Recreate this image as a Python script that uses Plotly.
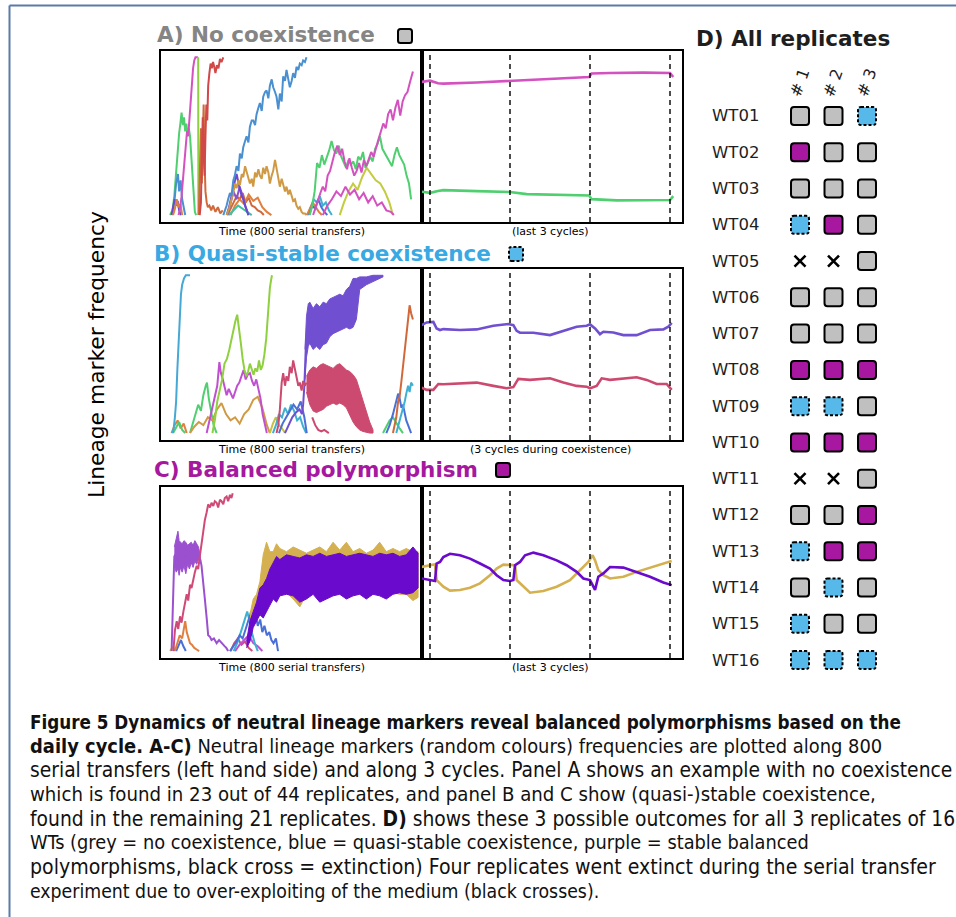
import plotly.graph_objects as go

W, H = 956, 917
def px(x): return x / W
def py(y): return 1 - y / H

# ------------------------------------------------------------------ DATA
# Panel A, left: time (serial transfers) / lineage frequency
A_green1_t = [0, 8, 14, 20, 26, 30, 34, 38, 42, 46, 50, 54, 58, 62, 66, 70, 74, 78, 82, 86]
A_green1_f = [0, 0.03, 0.12, 0.28, 0.45, 0.52, 0.58, 0.65, 0.57, 0.62, 0.53, 0.58, 0.5, 0.55, 0.5, 0.38, 0.22, 0.1, 0.02, 0]
A_pink1_t = [28, 33, 38, 44, 48, 52, 56, 60, 64, 68, 72, 76, 80, 84, 88, 92]
A_pink1_f = [0, 0.04, 0.12, 0.24, 0.33, 0.42, 0.53, 0.5, 0.62, 0.72, 0.83, 0.93, 0.98, 1.0, 1.0, 1.0]
A_lime_t = [93, 93.5]
A_lime_f = [1.0, 0.0]
A_red_t = [98, 102, 105, 108, 111, 114, 117, 120, 123, 126, 130, 134, 138, 142, 146, 150, 155, 160, 165, 170, 176]
A_red_f = [0, 0.08, 0.35, 0.62, 0.4, 0.25, 0.5, 0.7, 0.6, 0.82, 0.9, 0.96, 0.93, 0.97, 0.94, 0.9, 0.95, 0.93, 0.99, 0.97, 1.0]
A_orred_t = [95, 99, 102, 105, 108, 111, 114, 117, 121, 125, 130, 136, 142, 150, 158, 166, 174]
A_orred_f = [0, 0.3, 0.55, 0.2, 0.45, 0.7, 0.35, 0.15, 0.08, 0.05, 0.06, 0.03, 0.06, 0.02, 0.05, 0.01, 0.03]
A_blue1_t = [8, 14, 20, 26, 30, 35, 40, 45, 50]
A_blue1_f = [0, 0.08, 0.2, 0.26, 0.15, 0.22, 0.1, 0.04, 0]
A_purp1_t = [5, 10, 15, 20, 25, 30, 36]
A_purp1_f = [0, 0.05, 0.1, 0.06, 0.09, 0.03, 0]
A_oran1_t = [10, 16, 22, 28, 34, 40]
A_oran1_f = [0, 0.04, 0.1, 0.05, 0.07, 0]
A_blue_t = [176, 182, 187, 192, 198, 203, 209, 214, 220, 226, 231, 237, 242, 248, 253, 259, 264, 270, 275, 281,
            286, 292, 297, 303, 308, 314, 319, 325, 330, 336, 341, 347, 352, 358, 363, 369, 374, 380, 385, 391,
            396, 402, 407, 413, 418, 424, 429, 435, 440, 446, 451]
A_blue_f = [0, 0.03, 0.06, 0.1, 0.14, 0.12, 0.22, 0.25, 0.31, 0.28, 0.39, 0.36, 0.43, 0.47, 0.5, 0.46, 0.56, 0.6, 0.6, 0.57,
            0.64, 0.68, 0.71, 0.66, 0.75, 0.78, 0.79, 0.74, 0.82, 0.86, 0.81, 0.78, 0.75, 0.67, 0.77, 0.72, 0.88, 0.85, 0.92, 0.86,
            0.81, 0.85, 0.9, 0.87, 0.94, 0.92, 0.96, 0.95, 0.98, 0.97, 1.0]
A_tan_t = [187, 195, 203, 209, 215, 220, 226, 231, 237, 242, 248, 253, 259, 264, 270, 275, 281, 286, 292, 297,
           303, 308, 314, 319, 325, 330, 336, 341, 347, 352, 358, 363, 369, 374, 380, 385, 391, 396, 402, 407,
           413, 418, 424, 429, 435, 440, 446, 451]
A_tan_f = [0, 0.04, 0.1, 0.14, 0.2, 0.17, 0.22, 0.19, 0.26, 0.24, 0.31, 0.27, 0.24, 0.2, 0.23, 0.18, 0.27, 0.24, 0.29, 0.25,
           0.23, 0.3, 0.26, 0.31, 0.27, 0.2, 0.25, 0.28, 0.35, 0.3, 0.22, 0.18, 0.23, 0.2, 0.15, 0.18, 0.13, 0.16, 0.12, 0.09,
           0.1, 0.06, 0.04, 0.05, 0.02, 0.01, 0.01, 0]
A_purp2_t = [187, 195, 203, 209, 215, 220, 226, 231, 237, 242, 248, 253, 259]
A_purp2_f = [0, 0.05, 0.12, 0.18, 0.22, 0.26, 0.2, 0.16, 0.12, 0.1, 0.06, 0.03, 0]
A_redor2_t = [190, 200, 210, 220, 230, 240, 250, 260, 270, 280, 290, 300, 310]
A_redor2_f = [0, 0.04, 0.08, 0.12, 0.1, 0.14, 0.08, 0.11, 0.06, 0.05, 0.03, 0.02, 0]
A_oran2_t = [200, 215, 230, 245, 260, 275, 290, 305, 320, 335]
A_oran2_f = [0, 0.06, 0.1, 0.07, 0.13, 0.09, 0.11, 0.05, 0.02, 0]
A_violet_t = [190, 200, 210, 220, 230, 240, 250, 260]
A_violet_f = [0, 0.08, 0.15, 0.1, 0.18, 0.12, 0.05, 0]
A_teal_t = [195, 210, 225, 240, 255, 270]
A_teal_f = [0, 0.03, 0.06, 0.04, 0.02, 0]
A_cyan3_t = [455, 465, 475, 485, 495, 505, 515, 525, 535]
A_cyan3_f = [0, 0.05, 0.1, 0.08, 0.12, 0.06, 0.08, 0.03, 0]
A_oran3_t = [452, 462, 472, 482, 492, 502]
A_oran3_f = [0, 0.04, 0.08, 0.05, 0.02, 0]
A_blue3_t = [460, 470, 480, 490, 500, 510, 520]
A_blue3_f = [0, 0.06, 0.04, 0.1, 0.05, 0.02, 0]
A_green_t = [462, 470, 478, 486, 494, 502, 510, 518, 526, 534, 542, 550, 558, 566, 574, 582, 590, 598, 606, 614,
             622, 630, 638, 646, 654, 662, 670, 678, 686, 694, 702, 710, 718, 726, 734, 742, 750, 758, 766, 774,
             782, 790, 797]
A_green_f = [0, 0.06, 0.15, 0.33, 0.3, 0.38, 0.32, 0.36, 0.41, 0.47, 0.41, 0.39, 0.44, 0.37, 0.34, 0.3, 0.35, 0.32, 0.34, 0.29,
             0.37, 0.35, 0.4, 0.3, 0.33, 0.37, 0.34, 0.42, 0.45, 0.5, 0.42, 0.39, 0.36, 0.33, 0.31, 0.38, 0.43, 0.38, 0.35, 0.32,
             0.25, 0.2, 0.1]
A_pink_t = [473, 481, 489, 497, 505, 513, 521, 529, 537, 545, 553, 561, 569, 577, 585, 593, 601, 609, 617, 625,
            633, 641, 649, 657, 665, 673, 681, 689, 697, 705, 713, 721, 729, 737, 745, 753, 761, 769, 777, 785,
            793, 803]
A_pink_f = [0, 0.05, 0.1, 0.14, 0.18, 0.15, 0.25, 0.28, 0.34, 0.4, 0.44, 0.38, 0.42, 0.34, 0.29, 0.36, 0.3, 0.25, 0.28, 0.33,
            0.27, 0.35, 0.31, 0.36, 0.4, 0.37, 0.43, 0.48, 0.53, 0.58, 0.55, 0.64, 0.67, 0.6, 0.68, 0.73, 0.63, 0.72, 0.76, 0.78,
            0.84, 0.91]
A_pink2_t = [505, 520, 535, 550, 565, 580, 595, 610, 625, 640, 655, 670, 685, 700, 715, 730, 740]
A_pink2_f = [0, 0.06, 0.1, 0.15, 0.12, 0.18, 0.13, 0.16, 0.1, 0.14, 0.08, 0.12, 0.06, 0.08, 0.03, 0.02, 0]
A_olive_t = [561, 575, 590, 605, 620, 635, 650, 665, 680, 695, 710, 725, 737]
A_olive_f = [0, 0.08, 0.15, 0.2, 0.16, 0.24, 0.3, 0.26, 0.22, 0.2, 0.15, 0.08, 0]

# Panel A, right: cycles / frequency
AR_pink_c = [-0.104, 0.0, 0.1, 0.167, 0.583, 1.0, 1.417, 1.99, 2.02, 2.25, 2.67, 3.0, 3.04]
AR_pink_f = [0.844, 0.852, 0.836, 0.833, 0.840, 0.850, 0.859, 0.875, 0.897, 0.901, 0.903, 0.901, 0.875]
AR_green_c = [-0.104, 0.0, 0.1, 0.167, 0.583, 1.0, 1.208, 1.99, 2.02, 2.333, 3.0, 3.04]
AR_green_f = [0.148, 0.141, 0.152, 0.158, 0.152, 0.146, 0.133, 0.124, 0.101, 0.093, 0.095, 0.12]

# Panel B, left
B_cyan_t = [8, 12, 16, 20, 24, 28, 32, 36, 40, 46, 52, 58, 66]
B_cyan_f = [0, 0.03, 0.1, 0.2, 0.4, 0.6, 0.78, 0.88, 0.94, 0.98, 1.0, 1.0, 1.0]
B_oran1_t = [5, 15, 25, 35, 45, 55]
B_oran1_f = [0, 0.05, 0.08, 0.03, 0.06, 0]
B_grn1_t = [10, 20, 30, 40, 50]
B_grn1_f = [0, 0.04, 0.07, 0.02, 0]
B_green_t = [66, 75, 84, 93, 102, 110, 118, 122, 128, 136, 144, 154]
B_green_f = [0, 0.06, 0.12, 0.18, 0.14, 0.24, 0.3, 0.32, 0.22, 0.14, 0.05, 0]
B_tan_t = [66, 80, 95, 110, 125, 140, 155, 170, 185, 200, 215, 230, 245, 260, 275, 290, 305, 320, 330]
B_tan_f = [0, 0.04, 0.07, 0.05, 0.1, 0.08, 0.15, 0.19, 0.12, 0.08, 0.1, 0.06, 0.12, 0.15, 0.21, 0.23, 0.16, 0.05, 0]
B_mag_t = [121, 128, 135, 142, 149, 156, 163, 168, 173, 180, 187, 194, 201, 208, 215, 222, 229, 236, 243, 250,
           257, 264, 271, 278, 285, 292, 299, 306, 313, 320]
B_mag_f = [0, 0.06, 0.12, 0.18, 0.25, 0.3, 0.45, 0.38, 0.35, 0.3, 0.24, 0.28, 0.25, 0.22, 0.26, 0.3, 0.32, 0.36, 0.4, 0.34,
           0.37, 0.38, 0.33, 0.3, 0.34, 0.28, 0.22, 0.12, 0.05, 0]
B_lime_t = [140, 148, 156, 164, 172, 180, 188, 196, 204, 210, 216, 222, 228, 234, 240, 246, 252, 258, 264, 270,
            276, 282, 288, 294, 300, 306, 312, 318, 322, 326, 330, 334, 337]
B_lime_f = [0, 0.08, 0.2, 0.27, 0.34, 0.44, 0.47, 0.53, 0.6, 0.67, 0.71, 0.75, 0.64, 0.57, 0.47, 0.4, 0.36, 0.39, 0.44, 0.4,
            0.37, 0.41, 0.39, 0.46, 0.4, 0.43, 0.5, 0.6, 0.72, 0.82, 0.92, 0.97, 1.0]
B_cyan2_t = [340, 350, 360, 370, 380, 390, 400, 410, 420, 430, 440, 450]
B_cyan2_f = [0, 0.05, 0.12, 0.1, 0.16, 0.12, 0.18, 0.14, 0.08, 0.1, 0.04, 0]
B_blue2_t = [360, 372, 384, 396, 408, 420, 432, 444, 452]
B_blue2_f = [0, 0.06, 0.1, 0.14, 0.18, 0.15, 0.2, 0.1, 0]
B_yel_t = [330, 340, 350, 360, 370, 380]
B_yel_f = [0, 0.06, 0.1, 0.05, 0.03, 0]
B_purp_t = [380, 392, 404, 416, 428, 436, 440, 444, 447, 450]
B_purp_f = [0, 0.05, 0.1, 0.13, 0.15, 0.12, 0.18, 0.3, 0.45, 0.6]
B_purpband_t = [446, 451, 457, 462, 473, 484, 495, 506, 517, 528, 539, 550, 561, 572, 583, 594, 605, 616, 627, 649, 671, 704]
B_purpband_hi = [0.53, 0.74, 0.82, 0.83, 0.79, 0.82, 0.8, 0.83, 0.82, 0.85, 0.86, 0.87, 0.88, 0.87, 0.91, 0.93, 0.98, 0.98, 0.99, 0.99, 1.0, 1.0]
B_purpband_lo = [0.34, 0.48, 0.55, 0.57, 0.53, 0.55, 0.53, 0.56, 0.57, 0.61, 0.63, 0.64, 0.65, 0.66, 0.67, 0.66, 0.67, 0.72, 0.91, 0.94, 0.96, 0.99]
B_crim_t = [352, 358, 363, 369, 374, 380, 385, 391, 396, 402, 407, 413, 418, 424, 429, 435, 440, 446, 451]
B_crim_f = [0, 0.05, 0.15, 0.32, 0.38, 0.3, 0.36, 0.33, 0.42, 0.38, 0.46, 0.4, 0.34, 0.3, 0.32, 0.27, 0.33, 0.3, 0.32]
B_crimband_t = [451, 462, 473, 484, 495, 506, 517, 528, 539, 550, 561, 572, 583, 594, 605, 616, 627, 638, 649, 660, 671]
B_crimband_hi = [0.36, 0.4, 0.42, 0.41, 0.43, 0.44, 0.43, 0.42, 0.41, 0.43, 0.44, 0.42, 0.4, 0.39, 0.37, 0.34, 0.27, 0.2, 0.13, 0.07, 0.02]
B_crimband_lo = [0.26, 0.18, 0.14, 0.13, 0.14, 0.15, 0.17, 0.18, 0.19, 0.18, 0.19, 0.18, 0.16, 0.12, 0.07, 0.04, 0.02, 0.01, 0.005, 0.0, 0.0]
B_crim2_t = [470, 480, 490, 500, 510, 520, 525]
B_crim2_f = [0.1, 0.05, 0.02, 0.01, 0.02, 0.01, 0]
B_orred_t = [737, 743, 748, 754, 759, 765, 770, 776, 781, 787, 792, 797, 803]
B_orred_f = [0, 0.05, 0.1, 0.2, 0.23, 0.33, 0.42, 0.5, 0.59, 0.72, 0.81, 0.76, 0.72]
B_blue3_t = [715, 726, 737, 748, 754, 759, 765, 770, 776, 781, 787, 792, 797]
B_blue3_f = [0, 0.05, 0.12, 0.2, 0.25, 0.22, 0.16, 0.18, 0.12, 0.08, 0.05, 0.02, 0]
B_cyan3_t = [748, 759, 770, 776, 781, 787, 792, 797, 803]
B_cyan3_f = [0, 0.08, 0.15, 0.2, 0.25, 0.3, 0.26, 0.32, 0.3]
B_grn3_t = [704, 715, 726, 737, 748, 759, 770]
B_grn3_f = [0, 0.04, 0.08, 0.1, 0.06, 0.03, 0]

# Panel B, right
BR_purp_c = [-0.104, -0.042, 0.042, 0.083, 0.125, 0.167, 0.375, 0.583, 0.792, 0.979, 1.042, 1.083, 1.125, 1.292, 1.5,
             1.667, 1.833, 1.958, 2.0, 2.063, 2.125, 2.167, 2.292, 2.417, 2.583, 2.75, 2.917, 2.979, 3.021]
BR_purp_f = [0.684, 0.701, 0.705, 0.663, 0.653, 0.659, 0.653, 0.657, 0.680, 0.691, 0.684, 0.648, 0.636, 0.636, 0.621,
             0.648, 0.674, 0.680, 0.689, 0.663, 0.627, 0.642, 0.638, 0.621, 0.621, 0.653, 0.657, 0.674, 0.699]
BR_crim_c = [-0.104, -0.042, 0.042, 0.104, 0.167, 0.375, 0.583, 0.792, 0.958, 1.042, 1.104, 1.25, 1.5, 1.667, 1.833,
             1.958, 2.0, 2.083, 2.146, 2.25, 2.417, 2.583, 2.708, 2.833, 2.958, 3.021]
BR_crim_f = [0.288, 0.274, 0.274, 0.311, 0.309, 0.316, 0.320, 0.299, 0.284, 0.291, 0.343, 0.337, 0.347, 0.320, 0.299,
             0.294, 0.284, 0.299, 0.347, 0.337, 0.347, 0.354, 0.337, 0.311, 0.311, 0.274]

# Panel C, left
C_lav_t = [5, 8, 11, 14, 20, 30, 40, 50, 60, 70, 80, 90, 100, 104, 110, 115, 121, 126, 132, 137,
           145, 154, 162, 170, 176, 181, 186, 192]
C_lav_f = [0, 0.15, 0.4, 0.6, 0.62, 0.58, 0.6, 0.6, 0.61, 0.62, 0.63, 0.61, 0.58, 0.54, 0.44, 0.33, 0.21, 0.1, 0.09, 0.07,
           0.08, 0.05, 0.07, 0.05, 0.04, 0.03, 0.02, 0]
C_lavband_t = [14, 20, 26, 30, 34, 40, 46, 52, 58, 64, 70, 76, 82, 88, 94, 100]
C_lavband_hi = [0.66, 0.72, 0.76, 0.7, 0.69, 0.68, 0.7, 0.69, 0.67, 0.68, 0.69, 0.67, 0.7, 0.68, 0.66, 0.6]
C_lavband_lo = [0.55, 0.5, 0.52, 0.48, 0.53, 0.5, 0.54, 0.49, 0.55, 0.52, 0.56, 0.53, 0.57, 0.55, 0.58, 0.56]
C_crim_t = [11, 16, 22, 27, 33, 38, 44, 49, 55, 60, 66, 71, 77, 82, 88, 93, 99, 104, 110, 115,
            121, 126, 132, 137, 143, 148, 154, 159, 165, 170, 176, 181, 187, 192, 198, 203, 207]
C_crim_f = [0, 0.13, 0.19, 0.14, 0.22, 0.18, 0.25, 0.3, 0.36, 0.32, 0.42, 0.4, 0.46, 0.5, 0.54, 0.52, 0.61, 0.69, 0.77, 0.83,
            0.88, 0.93, 0.91, 0.94, 0.92, 0.95, 0.94, 0.91, 0.96, 0.95, 0.93, 0.97, 0.98, 0.95, 0.99, 0.97, 1.0]
C_oran_t = [16, 24, 32, 40, 46, 50, 55, 60, 66, 72, 80, 88, 96]
C_oran_f = [0, 0.05, 0.1, 0.08, 0.15, 0.19, 0.12, 0.08, 0.05, 0.04, 0.02, 0.01, 0]
C_blue1_t = [20, 28, 36, 44, 52]
C_blue1_f = [0, 0.04, 0.07, 0.03, 0]
C_yel_t = [0, 5, 10, 15]
C_yel_f = [0, 0.02, 0.03, 0]
C_blue_t = [198, 210, 220, 230, 240, 250, 260, 268, 275, 282, 290, 298, 305, 312, 320, 328, 335, 342, 350, 357]
C_blue_f = [0, 0.03, 0.06, 0.1, 0.08, 0.14, 0.2, 0.25, 0.18, 0.24, 0.16, 0.2, 0.12, 0.16, 0.1, 0.12, 0.07, 0.05, 0.08, 0]
C_cyan_t = [210, 222, 234, 246, 255, 262, 270, 280, 290]
C_cyan_f = [0, 0.05, 0.12, 0.2, 0.25, 0.2, 0.12, 0.05, 0]
C_pink_t = [200, 212, 224, 236, 248, 260, 272]
C_pink_f = [0, 0.05, 0.08, 0.04, 0.06, 0.02, 0]
C_mag_t = [215, 230, 245, 260, 275, 290, 305]
C_mag_f = [0, 0.04, 0.07, 0.1, 0.05, 0.03, 0]
C_gold_t = [264, 275, 286, 297, 308, 319, 330, 341, 352, 363, 385, 407, 429, 451, 473, 495, 517, 539, 561, 583,
            605, 627, 649, 671, 693, 715, 737, 759, 781, 803, 820]
C_gold_hi = [0.23, 0.33, 0.36, 0.44, 0.61, 0.69, 0.63, 0.63, 0.68, 0.65, 0.63, 0.66, 0.64, 0.62, 0.64, 0.66, 0.63, 0.69, 0.64, 0.69,
             0.63, 0.65, 0.62, 0.64, 0.69, 0.63, 0.65, 0.63, 0.65, 0.63, 0.63]
C_gold_lo = [0.1, 0.2, 0.24, 0.3, 0.32, 0.34, 0.33, 0.35, 0.36, 0.38, 0.37, 0.33, 0.28, 0.36, 0.37, 0.36, 0.35, 0.37, 0.36, 0.34,
             0.37, 0.36, 0.35, 0.37, 0.36, 0.34, 0.37, 0.36, 0.36, 0.32, 0.34]
C_purp_t = [253, 264, 275, 286, 297, 308, 319, 330, 341, 352, 363, 385, 407, 429, 451, 473, 495, 517, 539, 561,
            583, 605, 627, 649, 671, 693, 715, 737, 759, 781, 803, 820]
C_purp_hi = [0.06, 0.19, 0.25, 0.31, 0.4, 0.42, 0.46, 0.52, 0.56, 0.6, 0.58, 0.61, 0.6, 0.59, 0.61, 0.6, 0.62, 0.6, 0.61, 0.62,
             0.6, 0.61, 0.62, 0.61, 0.6, 0.62, 0.61, 0.62, 0.6, 0.61, 0.66, 0.62]
C_purp_lo = [0.02, 0.06, 0.15, 0.19, 0.23, 0.21, 0.25, 0.29, 0.33, 0.31, 0.35, 0.36, 0.35, 0.31, 0.33, 0.36, 0.31, 0.33, 0.35, 0.36,
             0.33, 0.35, 0.36, 0.33, 0.36, 0.35, 0.33, 0.36, 0.37, 0.36, 0.37, 0.4]

# Panel C, right
CR_purp_c = [-0.104, 0.0, 0.0625, 0.083, 0.125, 0.167, 0.25, 0.375, 0.5, 0.625, 0.75, 0.833, 0.917, 1.0, 1.042, 1.063,
             1.125, 1.188, 1.292, 1.417, 1.583, 1.708, 1.833, 1.917, 2.0, 2.033, 2.063, 2.083, 2.104, 2.167, 2.25,
             2.417, 2.583, 2.75, 2.917, 3.021]
CR_purp_f = [0.460, 0.450, 0.444, 0.555, 0.565, 0.596, 0.617, 0.607, 0.586, 0.555, 0.523, 0.481, 0.450, 0.444, 0.450, 0.544,
             0.565, 0.607, 0.624, 0.607, 0.575, 0.544, 0.502, 0.460, 0.450, 0.418, 0.387, 0.429, 0.471, 0.492, 0.533,
             0.529, 0.502, 0.471, 0.435, 0.418]
CR_gold_c = [-0.104, 0.0, 0.0625, 0.083, 0.167, 0.25, 0.375, 0.5, 0.625, 0.75, 0.833, 0.917, 1.0, 1.063, 1.083, 1.167,
             1.25, 1.417, 1.583, 1.75, 1.833, 1.917, 1.979, 2.033, 2.063, 2.104, 2.167, 2.25, 2.417, 2.583, 2.75, 2.917, 3.021]
CR_gold_f = [0.533, 0.544, 0.550, 0.450, 0.408, 0.383, 0.387, 0.401, 0.429, 0.481, 0.523, 0.548, 0.544, 0.544, 0.450, 0.408,
             0.370, 0.381, 0.408, 0.450, 0.492, 0.529, 0.565, 0.607, 0.575, 0.513, 0.481, 0.460, 0.471, 0.502, 0.529, 0.558, 0.571]

# Cycle boundaries in the right-hand panels
CYCLE_MARKS = [0, 1, 2, 3]

# Panel D: outcome of each replicate
D_ROWS = ["WT01", "WT02", "WT03", "WT04", "WT05", "WT06", "WT07", "WT08",
          "WT09", "WT10", "WT11", "WT12", "WT13", "WT14", "WT15", "WT16"]
D_COLS = ["# 1", "# 2", "# 3"]
D_REP1 = ["grey", "purple", "grey", "blue", "extinct", "grey", "grey", "purple",
          "blue", "purple", "extinct", "grey", "blue", "grey", "blue", "blue"]
D_REP2 = ["grey", "grey", "grey", "purple", "extinct", "grey", "grey", "purple",
          "blue", "purple", "extinct", "grey", "purple", "blue", "grey", "blue"]
D_REP3 = ["blue", "grey", "grey", "grey", "grey", "grey", "grey", "purple",
          "grey", "purple", "grey", "purple", "purple", "grey", "grey", "blue"]

CAPTION = [
    "<b>Figure 5 Dynamics of neutral lineage markers reveal balanced polymorphisms based on the</b>",
    "<b>daily cycle. A-C)</b> Neutral lineage markers (random colours) frequencies are plotted along 800",
    "serial transfers (left hand side) and along 3 cycles. Panel A shows an example with no coexistence",
    "which is found in 23 out of 44 replicates, and panel B and C show (quasi-)stable coexistence,",
    "found in the remaining 21 replicates. <b>D)</b> shows these 3 possible outcomes for all 3 replicates of 16",
    "WTs (grey = no coexistence, blue = quasi-stable coexistence, purple = stable balanced",
    "polymorphisms, black cross = extinction) Four replicates went extinct during the serial transfer",
    "experiment due to over-exploiting of the medium (black crosses).",
]
CAPTION_SIZES = [18.7, 19.9, 20.8, 20.2, 20.8, 19.8, 21.1, 19.3]

# ------------------------------------------------------------------ STYLE
C_GREEN = "#4fcf6f"; C_PINK = "#d452c0"; C_RED = "#d04848"; C_ORRED = "#d0683a"
C_BLUE = "#4a90d0"; C_TAN = "#d09a45"; C_PURP = "#6a48d0"; C_OLIVE = "#c2cc3e"
C_LIME = "#8fd040"; C_TEAL = "#40c0a0"; C_CYAN = "#40b0d0"; C_ORAN = "#e08040"
C_BLUE2 = "#4a70d8"; C_MAG = "#c050d0"; C_BPURP = "#7050d0"; C_CRIM = "#cc4a70"
C_LAV = "#9b50d0"; C_CPINK = "#d04a78"; C_GOLD = "#d4b050"; C_DPURP = "#6a0acc"
C_YEL = "#c8c040"

OUT_FILL = {"grey": "#c0c0c0", "blue": "#56b9ea", "purple": "#a8179f"}

A_LINES = [(A_green1_t, A_green1_f, C_GREEN), (A_blue1_t, A_blue1_f, C_BLUE), (A_purp1_t, A_purp1_f, C_PURP),
           (A_oran1_t, A_oran1_f, C_ORAN), (A_pink1_t, A_pink1_f, C_PINK), (A_lime_t, A_lime_f, C_LIME),
           (A_orred_t, A_orred_f, C_ORRED), (A_red_t, A_red_f, C_RED),
           (A_redor2_t, A_redor2_f, C_ORRED), (A_oran2_t, A_oran2_f, C_ORAN), (A_violet_t, A_violet_f, "#8a50d0"),
           (A_teal_t, A_teal_f, C_TEAL), (A_purp2_t, A_purp2_f, C_PURP), (A_tan_t, A_tan_f, C_TAN),
           (A_blue_t, A_blue_f, C_BLUE),
           (A_cyan3_t, A_cyan3_f, C_CYAN), (A_oran3_t, A_oran3_f, C_ORAN), (A_blue3_t, A_blue3_f, C_BLUE2),
           (A_olive_t, A_olive_f, C_OLIVE), (A_pink2_t, A_pink2_f, C_PINK),
           (A_green_t, A_green_f, C_GREEN), (A_pink_t, A_pink_f, C_PINK)]
AR_LINES = [(AR_pink_c, AR_pink_f, C_PINK), (AR_green_c, AR_green_f, C_GREEN)]

B_BANDS = [(B_purpband_t, B_purpband_hi, B_purpband_lo, C_BPURP), (B_crimband_t, B_crimband_hi, B_crimband_lo, C_CRIM)]
B_LINES = [(B_oran1_t, B_oran1_f, C_ORAN), (B_grn1_t, B_grn1_f, C_GREEN), (B_cyan_t, B_cyan_f, "#45a8d5"),
           (B_green_t, B_green_f, C_GREEN), (B_tan_t, B_tan_f, C_TAN), (B_mag_t, B_mag_f, C_MAG),
           (B_lime_t, B_lime_f, C_LIME), (B_yel_t, B_yel_f, C_YEL), (B_cyan2_t, B_cyan2_f, C_CYAN),
           (B_blue2_t, B_blue2_f, C_BLUE2), (B_purp_t, B_purp_f, C_BPURP), (B_crim_t, B_crim_f, C_CRIM),
           (B_crim2_t, B_crim2_f, C_CRIM), (B_grn3_t, B_grn3_f, C_GREEN), (B_blue3_t, B_blue3_f, C_BLUE2),
           (B_cyan3_t, B_cyan3_f, C_CYAN), (B_orred_t, B_orred_f, C_ORRED)]
BR_LINES = [(BR_purp_c, BR_purp_f, C_BPURP), (BR_crim_c, BR_crim_f, C_CRIM)]

C_BANDS = [(C_lavband_t, C_lavband_hi, C_lavband_lo, C_LAV), (C_gold_t, C_gold_hi, C_gold_lo, C_GOLD),
           (C_purp_t, C_purp_hi, C_purp_lo, C_DPURP)]
C_LINES = [(C_yel_t, C_yel_f, C_YEL), (C_blue1_t, C_blue1_f, C_BLUE2), (C_oran_t, C_oran_f, C_ORAN),
           (C_lav_t, C_lav_f, C_LAV), (C_crim_t, C_crim_f, C_CPINK), (C_pink_t, C_pink_f, C_CPINK),
           (C_mag_t, C_mag_f, C_MAG), (C_cyan_t, C_cyan_f, C_CYAN), (C_blue_t, C_blue_f, C_BLUE2)]
CR_LINES = [(CR_gold_c, CR_gold_f, C_GOLD), (CR_purp_c, CR_purp_f, C_DPURP)]

fig = go.Figure()

def add_lines(lines, xa, ya, width):
    for t, f, col in lines:
        fig.add_trace(go.Scatter(x=t, y=f, mode="lines", line=dict(color=col, width=width),
                                 xaxis=xa, yaxis=ya, hoverinfo="skip", showlegend=False))

def add_bands(bands, xa, ya):
    for t, hi, lo, col in bands:
        fig.add_trace(go.Scatter(x=list(t) + list(t)[::-1], y=list(hi) + list(lo)[::-1], mode="lines",
                                 fill="toself", fillcolor=col, line=dict(color=col, width=1),
                                 xaxis=xa, yaxis=ya, hoverinfo="skip", showlegend=False))

add_lines(A_LINES, "x", "y", 2)
add_lines(AR_LINES, "x2", "y2", 2.6)
add_bands(B_BANDS, "x3", "y3")
add_lines(B_LINES, "x3", "y3", 2)
add_lines(BR_LINES, "x4", "y4", 2.6)
add_lines(C_LINES[:3], "x5", "y5", 2)
add_bands(C_BANDS[:1], "x5", "y5")
add_lines(C_LINES[3:], "x5", "y5", 2)
add_bands(C_BANDS[1:], "x5", "y5")
add_lines(CR_LINES, "x6", "y6", 2.6)

# Panel D crosses (extinct replicates)
cx, cy = [], []
for j, rep in enumerate([D_REP1, D_REP2, D_REP3]):
    for i, o in enumerate(rep):
        if o == "extinct":
            cx.append(j + 1); cy.append(i + 1)
fig.add_trace(go.Scatter(x=cx, y=cy, mode="markers", xaxis="x7", yaxis="y7",
                         marker=dict(symbol="x-thin", size=11, line=dict(color="black", width=2.6)),
                         hoverinfo="skip", showlegend=False))

# ------------------------------------------------------------------ LAYOUT
PANEL_Y = [(51, 222), (269, 440), (487, 658)]
LEFT_X = (161, 422)
RIGHT_X = (422, 682)
YR = [-0.044, 1.04]

def box_axis(dom, rng, anchor):
    return dict(domain=dom, range=rng, anchor=anchor, showgrid=False, zeroline=False,
                showticklabels=False, ticks="", showline=True, linecolor="black", linewidth=1.5, mirror=True)

layout = dict(width=W, height=H, margin=dict(l=0, r=0, t=0, b=0), paper_bgcolor="white",
              plot_bgcolor="white", showlegend=False, font=dict(family="DejaVu Sans", color="black"))
k = 1
for (top, bot) in PANEL_Y:
    ydom = [py(bot), py(top)]
    for (xl, xr), rng in [(LEFT_X, [-30, 833]), (RIGHT_X, [-0.1, 3.15])]:
        xn = "xaxis" if k == 1 else f"xaxis{k}"
        yn = "yaxis" if k == 1 else f"yaxis{k}"
        layout[xn] = box_axis([px(xl), px(xr)], rng, "y" if k == 1 else f"y{k}")
        layout[yn] = box_axis(ydom, YR, "x" if k == 1 else f"x{k}")
        k += 1
# D axis
layout["xaxis7"] = dict(domain=[px(770), px(900)], range=[0.104, 3.985], anchor="y7", visible=False)
layout["yaxis7"] = dict(domain=[py(678), py(98)], range=[16.495, 0.504], anchor="x7", visible=False)
fig.update_layout(**layout)

shapes = []
# dashed cycle boundaries
for xa in ["x2", "x4", "x6"]:
    ya = "y" + xa[1:]
    for c in CYCLE_MARKS:
        shapes.append(dict(type="line", xref=xa, yref=f"{ya} domain", x0=c, x1=c, y0=0, y1=1,
                           line=dict(color="black", width=1.4, dash="5px,4px")))

def rrect(cx_, cy_, hw, hh, rx, ry):
    x0, x1, y0, y1 = cx_ - hw, cx_ + hw, cy_ - hh, cy_ + hh
    return (f"M {x0+rx},{y0} L {x1-rx},{y0} Q {x1},{y0} {x1},{y0+ry} L {x1},{y1-ry} "
            f"Q {x1},{y1} {x1-rx},{y1} L {x0+rx},{y1} Q {x0},{y1} {x0},{y1-ry} L {x0},{y0+ry} Q {x0},{y0} {x0+rx},{y0} Z")

def outcome_shape(kind, path, xref, yref):
    dash = "3px,2px" if kind == "blue" else "solid"
    return dict(type="path", path=path, xref=xref, yref=yref, fillcolor=OUT_FILL[kind],
                line=dict(color="black", width=2, dash=dash), layer="above")

XS, YS = 33.5, 36.27   # px per unit in panel D
for j, rep in enumerate([D_REP1, D_REP2, D_REP3]):
    for i, o in enumerate(rep):
        if o == "extinct":
            continue
        shapes.append(outcome_shape(o, rrect(j + 1, i + 1, 9 / XS, 9 / YS, 3 / XS, 3 / YS), "x7", "y7"))

# legend squares next to panel titles
for kind, (sx, sy) in [("grey", (405, 36)), ("blue", (516, 254)), ("purple", (503, 470))]:
    shapes.append(outcome_shape(kind, rrect(px(sx), py(sy), 7 / W, 7 / H, 2.5 / W, 2.5 / H), "paper", "paper"))

# outer frame
FRAME = "#5b7ba6"
shapes.append(dict(type="line", xref="paper", yref="paper", x0=px(9.5), x1=px(9.5), y0=py(5.5), y1=0,
                   line=dict(color=FRAME, width=2)))
shapes.append(dict(type="line", xref="paper", yref="paper", x0=px(9.5), x1=1, y0=py(5.5), y1=py(5.5),
                   line=dict(color=FRAME, width=2)))
fig.update_layout(shapes=shapes)

ann = []
def text(x, y, s, size, color="black", xanchor="left", bold=False, angle=0, family="DejaVu Sans", xref="paper", yref="paper"):
    ann.append(dict(x=x, y=y, xref=xref, yref=yref, text=(f"<b>{s}</b>" if bold else s), showarrow=False,
                    xanchor=xanchor, yanchor="middle", textangle=angle,
                    font=dict(size=size, color=color, family=family)))

text(px(155), py(35), "A) No coexistence", 21.5, "#858585", bold=True)
text(px(152), py(253), "B) Quasi-stable coexistence", 21.5, "#38a9e2", bold=True)
text(px(152), py(470), "C) Balanced polymorphism", 21.5, "#a5189f", bold=True)
text(px(694), py(38), "D) All replicates", 21.5, "#1e1e1e", bold=True)
text(px(96), py(355), "Lineage marker frequency", 21.8, angle=-90, xanchor="center")

for (top, bot), rlab in zip(PANEL_Y, ["(last 3 cycles)", "(3 cycles during coexistence)", "(last 3 cycles)"]):
    text(px(291.5), py(bot + 9.5), "Time (800 serial transfers)", 11, xanchor="center")
    text(px(550), py(bot + 9.5), rlab, 11, xanchor="center")

for i, name in enumerate(D_ROWS):
    text(px(761), i + 1, name, 16.5, "#1e1e1e", xanchor="right", yref="y7")
for j, name in enumerate(D_COLS):
    text(j + 1, py(83), name, 16, "#1e1e1e", xanchor="center", angle=-70, xref="x7")

CAP_Y0, CAP_DY = 722, 24.15
for i, line in enumerate(CAPTION):
    text(px(28), py(CAP_Y0 + i * CAP_DY), line, CAPTION_SIZES[i], "#111111",
         family="DejaVu Sans Condensed, Liberation Sans Narrow, DejaVu Sans")
fig.update_layout(annotations=ann)

fig.write_html("out.html", config={"displayModeBar": False},
               post_script="document.body.style.margin='0';document.body.style.overflow='hidden';"
                           "document.documentElement.style.overflow='hidden';")
